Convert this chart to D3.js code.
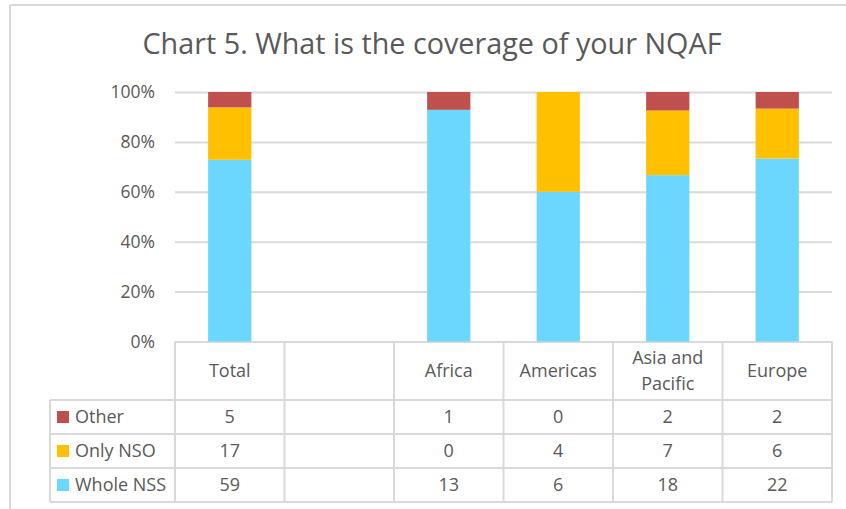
<!DOCTYPE html>
<html lang="en">
<head>
    <meta charset="UTF-8">
    <title>Chart 5. What is the coverage of your NQAF</title>
    <script src="https://d3js.org/d3.v7.min.js"></script>
    <style>
        body {
            margin: 0;
            background-color: #ffffff;
            font-family: "Open Sans", Arial, sans-serif;
        }
        svg text {
            fill: #595959;
        }
    </style>
</head>
<body>
    <div id="chart"></div>

    <script>
        // Chart data (counts per region)
        const categories = ["Total", "", "Africa", "Americas", "Asia and Pacific", "Europe"];
        const seriesNames = ["Other", "Only NSO", "Whole NSS"];   // table order, top to bottom
        const otherValues = [5, 0, 1, 0, 2, 2];
        const onlyNsoValues = [17, 0, 0, 4, 7, 6];
        const wholeNssValues = [59, 0, 13, 6, 18, 22];
        const tableValues = {
            "Other": ["5", "", "1", "0", "2", "2"],
            "Only NSO": ["17", "", "0", "4", "7", "6"],
            "Whole NSS": ["59", "", "13", "6", "18", "22"]
        };
        const yTicks = [0, 0.2, 0.4, 0.6, 0.8, 1];

        const colors = {
            "Whole NSS": "#6bd7ff",
            "Only NSO": "#ffc000",
            "Other": "#c0504d"
        };

        const width = 846, height = 509;
        const gridColor = "#d9d9d9";
        const tableFont = '18px';

        const svg = d3.select('#chart')
            .append('svg')
            .attr('width', width)
            .attr('height', height);

        // outer frame (only top and left edges are visible in the crop)
        svg.append('line')
            .attr('x1', 10).attr('x2', width).attr('y1', 5).attr('y2', 5)
            .attr('stroke', gridColor).attr('stroke-width', 2);
        svg.append('line')
            .attr('x1', 10).attr('x2', 10).attr('y1', 5).attr('y2', height)
            .attr('stroke', gridColor).attr('stroke-width', 2);

        // title
        const title = svg.append('text')
            .attr('x', 432)
            .attr('y', 54)
            .attr('text-anchor', 'middle')
            .style('font-size', '28px')
            .text('Chart 5. What is the coverage of your NQAF');
        const tw = title.node().getComputedTextLength();
        title.style('font-size', (28 * 579 / tw) + 'px');

        // scales
        const x = d3.scaleBand()
            .domain(categories)
            .range([175, 832])
            .padding(0);

        const y = d3.scaleLinear()
            .domain([0, 1])
            .range([341.5, 92]);

        // gridlines + tick labels
        const yAxis = svg.append('g')
            .attr('transform', 'translate(175,0)')
            .call(d3.axisLeft(y)
                .tickValues(yTicks)
                .tickSize(-(832 - 175))
                .tickPadding(20)
                .tickFormat(d3.format('.0%')));
        yAxis.select('.domain').remove();
        yAxis.selectAll('.tick line')
            .attr('stroke', gridColor)
            .attr('stroke-width', 2);
        yAxis.selectAll('.tick text')
            .attr('fill', '#595959')
            .style('font-size', '17.5px')
            .style('font-family', '"Open Sans", Arial, sans-serif');

        // stacked 100% bars
        const rows = categories.map((c, i) => ({
            category: c,
            "Whole NSS": wholeNssValues[i],
            "Only NSO": onlyNsoValues[i],
            "Other": otherValues[i]
        }));

        const stack = d3.stack()
            .keys(["Whole NSS", "Only NSO", "Other"])
            .offset(d3.stackOffsetExpand);

        const barWidth = x.bandwidth() * 0.395;

        svg.append('g')
            .selectAll('g')
            .data(stack(rows))
            .enter()
            .append('g')
            .attr('fill', d => colors[d.key])
            .selectAll('rect')
            .data(d => d.filter(s => s[1] - s[0] > 0))
            .enter()
            .append('rect')
            .attr('x', d => x(d.data.category) + (x.bandwidth() - barWidth) / 2)
            .attr('width', barWidth)
            .attr('y', d => y(d[1]))
            .attr('height', d => y(d[0]) - y(d[1]));

        // data table
        const headerTop = 341.5, headerBottom = 400;
        const rowY = d3.scaleBand()
            .domain(seriesNames)
            .range([headerBottom, 502]);
        const tableLeft = 50;

        const table = svg.append('g');
        const lineStyle = sel => sel.attr('stroke', gridColor).attr('stroke-width', 2);

        // horizontal rules
        rowY.domain().forEach(s => {
            table.append('line')
                .attr('x1', tableLeft).attr('x2', 832)
                .attr('y1', rowY(s)).attr('y2', rowY(s))
                .call(lineStyle);
        });
        table.append('line')
            .attr('x1', tableLeft).attr('x2', 832)
            .attr('y1', 502).attr('y2', 502)
            .call(lineStyle);

        // vertical rules
        table.append('line')
            .attr('x1', tableLeft).attr('x2', tableLeft)
            .attr('y1', headerBottom).attr('y2', 502)
            .call(lineStyle);
        categories.forEach(c => {
            table.append('line')
                .attr('x1', x(c)).attr('x2', x(c))
                .attr('y1', headerTop).attr('y2', 502)
                .call(lineStyle);
        });
        table.append('line')
            .attr('x1', 832).attr('x2', 832)
            .attr('y1', headerTop).attr('y2', 502)
            .call(lineStyle);

        // category headers
        categories.forEach(c => {
            const cx = x(c) + x.bandwidth() / 2;
            const words = c === "Asia and Pacific" ? ["Asia and", "Pacific"] : [c];
            const t = table.append('text')
                .attr('x', cx)
                .attr('text-anchor', 'middle')
                .style('font-size', tableFont);
            words.forEach((w, i) => {
                t.append('tspan')
                    .attr('x', cx)
                    .attr('y', (headerTop + headerBottom) / 2 + 6 + (i - (words.length - 1) / 2) * 26)
                    .text(w);
            });
        });

        // legend keys + values
        seriesNames.forEach(s => {
            const cy = rowY(s) + rowY.bandwidth() / 2;
            table.append('rect')
                .attr('x', 57).attr('y', cy - 6)
                .attr('width', 12).attr('height', 12)
                .attr('fill', colors[s]);
            table.append('text')
                .attr('x', 75).attr('y', cy + 6)
                .style('font-size', tableFont)
                .text(s);
            categories.forEach((c, i) => {
                table.append('text')
                    .attr('x', x(c) + x.bandwidth() / 2)
                    .attr('y', cy + 6)
                    .attr('text-anchor', 'middle')
                    .style('font-size', tableFont)
                    .text(tableValues[s][i]);
            });
        });
    </script>
</body>
</html>
